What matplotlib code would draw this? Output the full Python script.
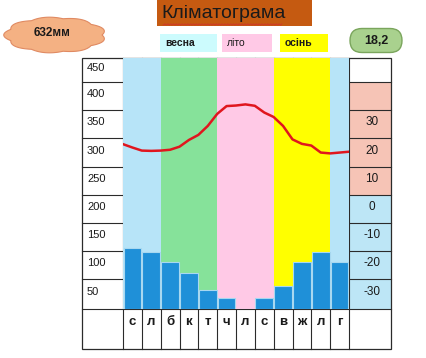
import numpy as np
import matplotlib.pyplot as plt
from matplotlib.patches import Rectangle, FancyBboxPatch, Polygon

plt.rcParams['font.family'] = ['Liberation Sans', 'DejaVu Sans']

# data
months = ['с', 'л', 'б', 'к', 'т', 'ч', 'л', 'с', 'в', 'ж', 'л', 'г']
precip = [110, 102, 84, 64, 34, 20, 0, 20, 41, 84, 102, 84]
# temperature curve, read every half month (0 = start of Jan, 12 = end of Dec)
temp_pos = [0, 0.5, 1, 1.5, 2, 2.5, 3, 3.5, 4, 4.5, 5, 5.5, 6,
            6.5, 7, 7.5, 8, 8.5, 9, 9.5, 10, 10.5, 11, 11.5, 12]
temp = [22.8, 21.6, 20.5, 20.4, 20.5, 20.8, 21.9, 24.3, 26.1, 29.3, 33.6, 36.4, 36.6,
        37.0, 36.5, 34.1, 32.5, 29.3, 24.5, 22.9, 22.3, 19.8, 19.5, 19.8, 20.1]
left_labels = ['450', '400', '350', '300', '250', '200', '150', '100', '50']
right_labels = ['', '', '30', '20', '10', '0', '-10', '-20', '-30']
total_text = '632мм'
mean_text = '18,2'

W, H = 426, 358
fig = plt.figure(figsize=(W / 100, H / 100), dpi=100)
bg = fig.add_axes([0, 0, 1, 1])
bg.set_xlim(0, W)
bg.set_ylim(H, 0)
bg.axis('off')

# table geometry (pixels)
x_left, x_plot0, x_plot1, x_right = 82, 123, 349, 391
rows = [58, 82, 110, 138, 167, 195, 223, 251, 279, 309, 349]
line_col = '#2b2b2b'

# right column colours
bg.add_patch(Rectangle((x_plot1, rows[1]), x_right - x_plot1, rows[5] - rows[1],
                       fc='#f6c4b6', ec='none'))
bg.add_patch(Rectangle((x_plot1, rows[5]), x_right - x_plot1, rows[9] - rows[5],
                       fc='#bde6f6', ec='none'))

for i, lab in enumerate(left_labels):
    yc = (rows[i] + rows[i + 1]) / 2 - 2
    bg.text(x_left + 5, yc, lab, ha='left', va='center', fontsize=8, color='#1a1a1a')
for i, lab in enumerate(right_labels):
    yc = (rows[i] + rows[i + 1]) / 2 - 2
    bg.text((x_plot1 + x_right) / 2 + 2, yc, lab, ha='center', va='center',
            fontsize=8.5, color='#1a1a1a')

# data axes over the month columns
ax = fig.add_axes([x_plot0 / W, 1 - rows[9] / H, (x_plot1 - x_plot0) / W,
                   (rows[9] - rows[0]) / H])
ax.set_xlim(0, 12)
ax.set_ylim(0, 450)
seasons = [(0, 2, '#b7e4f8'), (2, 5, '#86e29a'), (5, 8, '#ffc9e6'),
           (8, 11, '#ffff00'), (11, 12, '#b7e4f8')]
for a, b, c in seasons:
    ax.axvspan(a, b, color=c, lw=0, zorder=0)
ax.bar(np.arange(12) + 0.5, precip, width=0.94, color='#1f90d8',
       edgecolor='#a8d8f0', linewidth=0.8, zorder=2)
ax.axis('off')

ax2 = ax.twinx()
ax2.set_ylim(-36.07, 53.57)
ax2.plot(temp_pos, temp, color='#e0161e', lw=1.8, zorder=3)
ax2.axis('off')

# grid lines of the table
for y in rows[1:-1]:
    bg.plot([x_left, x_right], [y, y], color=line_col, lw=0.8, zorder=5)
col_edges = np.linspace(x_plot0, x_plot1, 13)
for x in col_edges:
    bg.plot([x, x], [rows[0], rows[-1]], color=line_col, lw=0.8, zorder=5)
bg.add_patch(Rectangle((x_left, rows[0]), x_right - x_left, rows[-1] - rows[0],
                       fc='none', ec=line_col, lw=0.9, zorder=5))
for i, m in enumerate(months):
    bg.text((col_edges[i] + col_edges[i + 1]) / 2, 322, m, ha='center',
            va='center', fontsize=9.5, fontweight='bold', color='#1a1a1a')

# title box
bg.add_patch(Rectangle((157, 0), 155, 26, fc='#c55a11', ec='none'))
bg.text(161, 13, 'Кліматограма', ha='left', va='center', fontsize=14,
        color='#1a1a1a')
t = np.linspace(163, 282, 150)
bg.plot(t, 24.5 + 0.8 * np.sin(t * 2.2), color='#d03030', lw=0.5)

# cloud
th = np.linspace(0, 2 * np.pi, 500)
r = 1 + 0.09 * np.abs(np.sin(4.5 * th))
cx, cy = 55, 35
bg.add_patch(Polygon(np.column_stack([cx + 47 * r * np.cos(th), cy + 16.5 * r * np.sin(th)]),
                     closed=True, fc='#f4b183', ec='#e08a62', lw=0.8))
bg.text(cx - 3, cy - 2, total_text, ha='center', va='center', fontsize=8.5,
        fontweight='bold', color='#1a1a1a')

# season legend boxes
for x0, w, c, lab in [(160, 57, '#ccfbfd', 'весна'), (222, 50, '#ffc9e6', 'літо'),
                      (280, 48, '#ffff00', 'осінь')]:
    bg.add_patch(Rectangle((x0, 34), w, 18, fc=c, ec='none'))
    bg.text(x0 + 5, 43, lab, ha='left', va='center', fontsize=7.5,
            fontweight='normal' if lab == 'літо' else 'bold', color='#1a1a1a')

# mean temperature pill
bg.add_patch(FancyBboxPatch((350, 28.5), 52, 24, boxstyle='round,pad=0,rounding_size=12',
                            fc='#a9d18e', ec='#7aa55c', lw=1))
bg.text(376, 40.5, mean_text, ha='center', va='center', fontsize=9,
        fontweight='bold', color='#1a1a1a')

fig.savefig('out.png', dpi=100)
